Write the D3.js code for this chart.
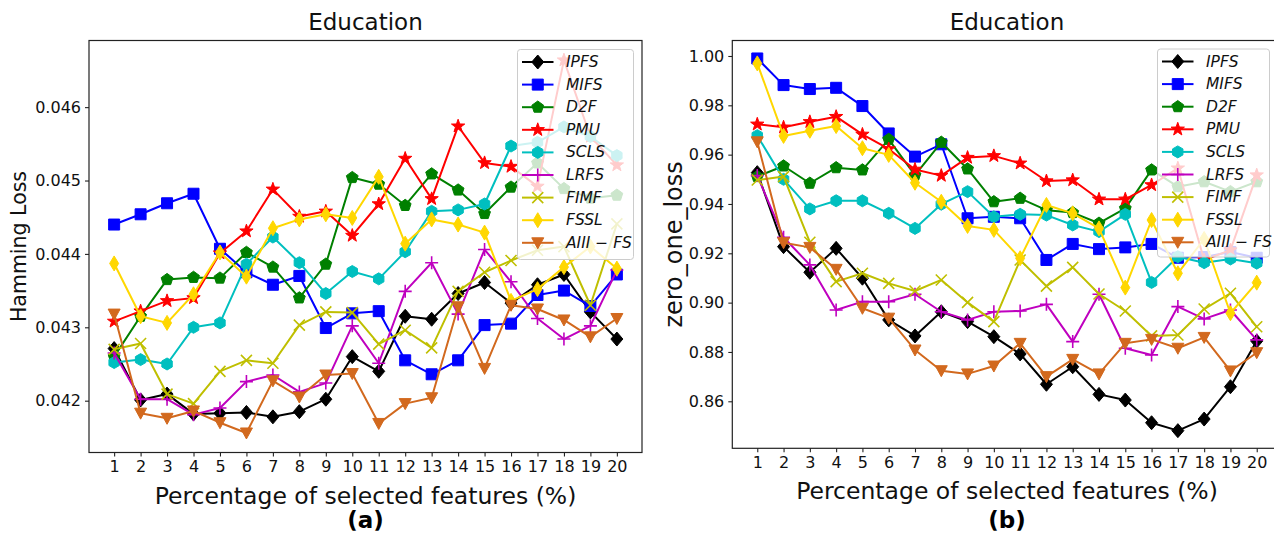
<!DOCTYPE html>
<html><head><meta charset="utf-8">
<script src="https://cdn.jsdelivr.net/npm/d3@7"></script>
<style>body{margin:0;background:#fff}svg{display:block}text{font-family:"DejaVu Sans",sans-serif}</style>
</head><body><svg id="c" width="1274" height="540"></svg>
<script>
const xValues = d3.range(1, 21);
const seriesNames = ["IPFS","MIFS","D2F","PMU","SCLS","LRFS","FIMF","FSSL","AIII − FS"];

// (a) Hamming Loss
const hammingIPFS = [0.04271,0.04201,0.04209,0.04182,0.04183,0.04184,0.04178,0.04185,0.04202,0.04260,0.04240,0.04315,0.04311,0.04346,0.04361,0.04333,0.04358,0.04372,0.04321,0.04284];
const hammingMIFS = [0.04440,0.04454,0.04469,0.04482,0.04407,0.04375,0.04358,0.04370,0.04299,0.04319,0.04322,0.04255,0.04236,0.04255,0.04303,0.04305,0.04344,0.04350,0.04329,0.04372];
const hammingD2F  = [0.04260,0.04315,0.04365,0.04368,0.04367,0.04402,0.04382,0.04340,0.04386,0.04504,0.04495,0.04466,0.04509,0.04487,0.04455,0.04491,0.04524,0.04489,0.04476,0.04480];
const hammingPMU  = [0.04308,0.04322,0.04336,0.04340,0.04401,0.04431,0.04488,0.04451,0.04458,0.04425,0.04468,0.04530,0.04475,0.04574,0.04524,0.04519,0.04492,0.04664,0.04560,0.04521];
const hammingSCLS = [0.04252,0.04256,0.04250,0.04300,0.04306,0.04386,0.04423,0.04388,0.04346,0.04376,0.04366,0.04403,0.04458,0.04460,0.04468,0.04547,0.04552,0.04573,0.04560,0.04534];
const hammingLRFS = [0.04265,0.04202,0.04202,0.04181,0.04190,0.04226,0.04235,0.04212,0.04224,0.04302,0.04251,0.04349,0.04388,0.04318,0.04406,0.04362,0.04312,0.04284,0.04302,0.04378];
const hammingFIMF = [0.04270,0.04278,0.04209,0.04196,0.04240,0.04255,0.04251,0.04303,0.04321,0.04320,0.04277,0.04296,0.04272,0.04349,0.04375,0.04391,0.04405,0.04410,0.04330,0.04441];
const hammingFSSL = [0.04387,0.04315,0.04306,0.04345,0.04402,0.04369,0.04435,0.04447,0.04454,0.04449,0.04505,0.04414,0.04447,0.04440,0.04429,0.04336,0.04352,0.04382,0.04410,0.04380];
const hammingAIII = [0.04318,0.04183,0.04176,0.04186,0.04170,0.04156,0.04227,0.04205,0.04235,0.04237,0.04169,0.04196,0.04204,0.04328,0.04244,0.04330,0.04325,0.04310,0.04287,0.04312];

// (b) zero_one_loss
const zeroOneIPFS = [0.9527,0.9227,0.9123,0.9220,0.9099,0.8930,0.8865,0.8963,0.8923,0.8862,0.8792,0.8669,0.8740,0.8628,0.8605,0.8513,0.8481,0.8528,0.8659,0.8844];
const zeroOneMIFS = [0.9990,0.9882,0.9866,0.9871,0.9797,0.9686,0.9592,0.9642,0.9342,0.9348,0.9342,0.9173,0.9238,0.9217,0.9224,0.9238,0.9182,0.9185,0.9205,0.9182];
const zeroOneD2F  = [0.9511,0.9554,0.9484,0.9547,0.9538,0.9662,0.9517,0.9650,0.9542,0.9409,0.9423,0.9375,0.9365,0.9322,0.9382,0.9538,0.9470,0.9490,0.9450,0.9490];
const zeroOnePMU  = [0.9723,0.9711,0.9733,0.9754,0.9682,0.9623,0.9540,0.9515,0.9588,0.9595,0.9565,0.9493,0.9497,0.9419,0.9419,0.9477,0.9545,0.9173,0.9213,0.9517];
const zeroOneSCLS = [0.9677,0.9500,0.9380,0.9413,0.9413,0.9362,0.9301,0.9399,0.9450,0.9348,0.9358,0.9355,0.9315,0.9288,0.9358,0.9082,0.9186,0.9162,0.9177,0.9160];
const zeroOneLRFS = [0.9515,0.9265,0.9153,0.8970,0.9004,0.9004,0.9034,0.8963,0.8930,0.8963,0.8966,0.8993,0.8842,0.9034,0.8815,0.8788,0.8984,0.8934,0.8970,0.8849];
const zeroOneFIMF = [0.9497,0.9511,0.9245,0.9085,0.9119,0.9078,0.9047,0.9092,0.9001,0.8923,0.9173,0.9067,0.9143,0.9035,0.8966,0.8865,0.8869,0.8974,0.9038,0.8902];
const zeroOneFSSL = [0.9970,0.9676,0.9697,0.9716,0.9626,0.9599,0.9486,0.9409,0.9311,0.9295,0.9180,0.9396,0.9362,0.9301,0.9061,0.9335,0.9119,0.9258,0.8957,0.9081];
const zeroOneAIII = [0.9652,0.9243,0.9224,0.9135,0.8977,0.8937,0.8808,0.8724,0.8711,0.8743,0.8835,0.8700,0.8770,0.8711,0.8835,0.8851,0.8815,0.8859,0.8723,0.8797];

const hammingTicks = [0.042,0.043,0.044,0.045,0.046];
const zeroOneTicks = [0.86,0.88,0.90,0.92,0.94,0.96,0.98,1.00];

const styles = [
  {color:"#000000", marker:"D"},
  {color:"#0000ff", marker:"s"},
  {color:"#008000", marker:"p"},
  {color:"#ff0000", marker:"*"},
  {color:"#00bfbf", marker:"h"},
  {color:"#bf00bf", marker:"+"},
  {color:"#bfbf00", marker:"x"},
  {color:"#ffd700", marker:"d"},
  {color:"#d2691e", marker:"v"}
];

function poly(pts){return "M"+pts.map(p=>p[0].toFixed(2)+","+p[1].toFixed(2)).join("L")+"Z";}
function regular(n, r, rot){const a=[];for(let i=0;i<n;i++){const t=rot+i*2*Math.PI/n;a.push([r*Math.cos(t),r*Math.sin(t)]);}return a;}
function markerPath(m){
  switch(m){
    case "D": return poly([[0,-7],[6,0],[0,7],[-6,0]]);
    case "d": return poly([[0,-7.5],[4.5,0],[0,7.5],[-4.5,0]]);
    case "s": return poly([[-5.5,-5.5],[5.5,-5.5],[5.5,5.5],[-5.5,5.5]]);
    case "p": return poly(regular(5,6.2,-Math.PI/2));
    case "h": return poly(regular(6,6,-Math.PI/2));
    case "v": return poly([[-6,-5],[6,-5],[0,6]]);
    case "*": {const a=[];for(let i=0;i<10;i++){const r=i%2?2.8:7;const t=-Math.PI/2+i*Math.PI/5;a.push([r*Math.cos(t),r*Math.sin(t)]);}return poly(a);}
    case "+": return "M-6.5,0L6.5,0M0,-6.5L0,6.5";
    case "x": return "M-5.5,-5.5L5.5,5.5M-5.5,5.5L5.5,-5.5";
  }
}
const stroked = m => m==="+"||m==="x";

const svg = d3.select("#c");

const panels = [
  {left:89, right:642, top:40.5, bottom:452.5, ydom:[0.041294,0.046908], ticks:hammingTicks, fmt:d3.format(".3f"),
   data:[hammingIPFS,hammingMIFS,hammingD2F,hammingPMU,hammingSCLS,hammingLRFS,hammingFIMF,hammingFSSL,hammingAIII],
   ylabel:"Hamming Loss", ylabelX:19, ylabelSize:20.5, tag:"(a)", legend:{x:517.5, y:49.5, w:116, h:210}},
  {left:732.3, right:1281.7, top:40.5, bottom:448.3, ydom:[0.84094,1.00628], ticks:zeroOneTicks, fmt:d3.format(".2f"),
   data:[zeroOneIPFS,zeroOneMIFS,zeroOneD2F,zeroOnePMU,zeroOneSCLS,zeroOneLRFS,zeroOneFIMF,zeroOneFSSL,zeroOneAIII],
   ylabel:"zero_one_loss", ylabelX:674, ylabelSize:24, tag:"(b)", legend:{x:1157.5, y:49, w:112, h:208}}
];

panels.forEach(P=>{
  const x = d3.scaleLinear().domain([0.05,20.95]).range([P.left,P.right]);
  const y = d3.scaleLinear().domain(P.ydom).range([P.bottom,P.top]);
  const g = svg.append("g");
  const clipId = "clip"+P.tag.replace(/\W/g,"");
  svg.append("clipPath").attr("id",clipId).append("rect").attr("x",P.left).attr("y",P.top).attr("width",P.right-P.left).attr("height",P.bottom-P.top);

  const plot = g.append("g").attr("clip-path","url(#"+clipId+")");
  const line = d3.line().x((d,i)=>x(xValues[i])).y(d=>y(d));
  P.data.forEach((vals,k)=>{
    const st = styles[k];
    const s = plot.append("g");
    s.append("path").attr("d",line(vals)).attr("fill","none").attr("stroke",st.color).attr("stroke-width",2).attr("stroke-linejoin","round");
    s.selectAll("path.m").data(vals).enter().append("path").attr("class","m")
      .attr("transform",(d,i)=>`translate(${x(xValues[i])},${y(d)})`)
      .attr("d",markerPath(st.marker))
      .attr("fill",stroked(st.marker)?"none":st.color)
      .attr("stroke",st.color).attr("stroke-width",stroked(st.marker)?1.6:1);
  });

  // axes
  const xa = g.append("g").attr("transform",`translate(0,${P.bottom})`).call(d3.axisBottom(x).tickValues(xValues).tickFormat(d3.format("d")).tickSizeOuter(0).tickSize(4).tickPadding(4));
  const ya = g.append("g").attr("transform",`translate(${P.left},0)`).call(d3.axisLeft(y).tickValues(P.ticks).tickFormat(P.fmt).tickSizeOuter(0).tickSize(4).tickPadding(4));
  [xa,ya].forEach(a=>{a.select(".domain").remove();a.selectAll("line").attr("stroke","#222").attr("stroke-width",1.1);a.selectAll("text").attr("font-size",16).attr("fill","#111").attr("font-family","DejaVu Sans");});
  g.append("rect").attr("x",P.left).attr("y",P.top).attr("width",P.right-P.left).attr("height",P.bottom-P.top).attr("fill","none").attr("stroke","#222").attr("stroke-width",1.2);

  const cx = (P.left+P.right)/2;
  g.append("text").attr("x",cx).attr("y",30).attr("text-anchor","middle").attr("font-size",23).attr("fill","#111").text("Education");
  g.append("text").attr("x",cx).attr("y",P.bottom+51).attr("text-anchor","middle").attr("font-size",23.5).attr("fill","#111").text("Percentage of selected features (%)");
  g.append("text").attr("transform",`translate(${P.ylabelX},${(P.top+P.bottom)/2}) rotate(-90)`).attr("text-anchor","middle").attr("dominant-baseline","central").attr("font-size",P.ylabelSize).attr("fill","#111").text(P.ylabel);
  g.append("text").attr("x",cx).attr("y",528).attr("text-anchor","middle").attr("font-size",23).attr("font-weight","bold").attr("font-family","Liberation Serif, serif").attr("fill","#000").text(P.tag);

  // legend
  const L = P.legend;
  const lg = g.append("g");
  lg.append("rect").attr("x",L.x).attr("y",L.y).attr("width",L.w).attr("height",L.h).attr("rx",3).attr("fill","#fff").attr("fill-opacity",0.8).attr("stroke","#cccccc").attr("stroke-width",1);
  seriesNames.forEach((nm,k)=>{
    const st = styles[k];
    const yy = L.y + 12.5 + k*22.6;
    const x0 = L.x+4.5, x1 = L.x+36;
    lg.append("line").attr("x1",x0).attr("x2",x1).attr("y1",yy).attr("y2",yy).attr("stroke",st.color).attr("stroke-width",2);
    lg.append("path").attr("transform",`translate(${(x0+x1)/2},${yy})`).attr("d",markerPath(st.marker))
      .attr("fill",stroked(st.marker)?"none":st.color).attr("stroke",st.color).attr("stroke-width",stroked(st.marker)?1.6:1);
    lg.append("text").attr("x",L.x+48.5).attr("y",yy).attr("dominant-baseline","central").attr("font-size",15.5).attr("font-style","italic").attr("fill","#111").text(nm);
  });
});
</script></body></html>
